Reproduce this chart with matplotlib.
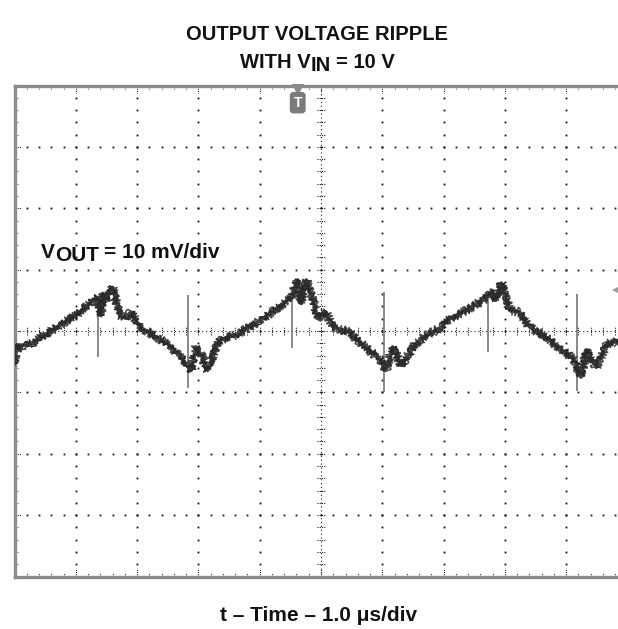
import matplotlib
matplotlib.use('Agg')
import matplotlib.pyplot as plt
import matplotlib.transforms as mtransforms
import numpy as np

plt.rcParams['font.family'] = ['Liberation Sans', 'DejaVu Sans']

# ---------------- data (divisions: x 0..10 = time, y -4..4 = voltage) ----------------
trace_t = [0.00, 0.02, 0.08, 0.24, 0.41, 0.73, 1.01, 1.34, 1.41, 1.44, 1.49, 1.60,
           1.71, 1.81, 1.90, 2.04, 2.31, 2.53, 2.77, 2.81, 2.88, 2.96, 3.05, 3.15,
           3.34, 3.67, 4.00, 4.24, 4.51, 4.62, 4.68, 4.76, 4.89, 4.94, 5.08, 5.19,
           5.46, 5.74, 5.98, 6.06, 6.17, 6.31, 6.55, 6.77, 6.98, 7.04, 7.37, 7.69,
           7.79, 7.85, 7.94, 8.08, 8.24, 8.40, 8.73, 9.11, 9.15, 9.24, 9.33, 9.49,
           9.65, 9.79, 9.84]
trace_v = [-0.53, -0.35, -0.23, -0.23, -0.12, 0.09, 0.26, 0.55, 0.25, 0.61, 0.50, 0.71,
           0.26, 0.21, 0.31, 0.07, -0.10, -0.23, -0.50, -0.56, -0.64, -0.26, -0.40, -0.64,
           -0.15, -0.04, 0.17, 0.34, 0.55, 0.83, 0.45, 0.83, 0.42, 0.21, 0.31, 0.07,
           -0.02, -0.28, -0.48, -0.64, -0.26, -0.56, -0.20, -0.04, 0.07, 0.17, 0.34, 0.53,
           0.66, 0.50, 0.78, 0.34, 0.31, 0.07, -0.15, -0.45, -0.51, -0.75, -0.31, -0.59,
           -0.23, -0.15, -0.20]

# switching spikes: time, low end, high end
spike_t = [1.37, 2.83, 4.53, 6.03, 7.73, 9.18]
spike_lo = [-0.43, -0.93, -0.28, -1.00, -0.35, -0.97]
spike_hi = [0.55, 0.58, 0.55, 0.63, 0.53, 0.61]

title_lines = ["OUTPUT VOLTAGE RIPPLE", "WITH V", "IN", "= 10 V"]
scale_label = ["V", "OUT", "= 10 mV/div"]
xlabel = "t \u2013 Time \u2013 1.0 \u03bcs/div"

# ---------------- figure ----------------
W, H = 618, 629
fig = plt.figure(figsize=(W / 100, H / 100), dpi=100)
x0, x1 = 14.5, 627.5
y_top, y_bot = 85.5, 576.5
ax = fig.add_axes([x0 / W, (H - y_bot) / H, (x1 - x0) / W, (y_bot - y_top) / H])
ax.set_xlim(0, 10)
ax.set_ylim(-4, 4)
ax.set_xticks([])
ax.set_yticks([])
for s in ax.spines.values():
    s.set_color('#8c8c8c')
    s.set_linewidth(2.4)

dot_kw = dict(linestyle='none', marker='s', markersize=1.3, color='#111111', markeredgewidth=0)
steps = np.round(np.arange(0, 10.001, 0.2), 2)
vsteps = np.round(np.arange(-4, 4.001, 0.2), 2)

# grid dots
for gx in [1, 2, 3, 4, 6, 7, 8, 9]:
    ax.plot([gx] * len(vsteps), vsteps, **dot_kw)
for gy in [-3, -2, -1, 1, 2, 3]:
    ax.plot(steps, [gy] * len(steps), **dot_kw)

# center cross-hair lines
ax.plot([0, 10], [0, 0], color='#222222', lw=0.8, linestyle=(0, (1, 2.5)))
ax.plot([5, 5], [-4, 4], color='#222222', lw=0.8, linestyle=(0, (1, 2.5)))
hx = 0.065
hy = 0.065
for v in vsteps:
    ax.plot([5 - hx, 5 + hx], [v, v], color='#222222', lw=0.8, linestyle=(0, (1, 1)))
for t in steps:
    ax.plot([t, t], [-hy, hy], color='#222222', lw=0.8, linestyle=(0, (1, 1)))

# edge ruler ticks
for t in steps:
    L = 0.13 if abs(t - round(t)) < 1e-6 else 0.05
    ax.plot([t, t], [-4, -4 + L], color='#222222', lw=0.8, linestyle=(0, (1, 1)))
    ax.plot([t, t], [4, 4 - L], color='#222222', lw=0.8, linestyle=(0, (1, 1)))
for v in vsteps:
    L = 0.1 if abs(v - round(v)) < 1e-6 else 0.05
    ax.plot([0, L], [v, v], color='#222222', lw=0.8, linestyle=(0, (1, 1)))
ax.plot([0.015, 0.015], [-4, 4], color='#444444', lw=0.6, linestyle=(0, (1, 1)))
ax.plot([0, 10], [3.985, 3.985], color='#444444', lw=0.6, linestyle=(0, (1, 1)))
ax.plot([0, 10], [-3.985, -3.985], color='#444444', lw=0.6, linestyle=(0, (1, 1)))

# waveform (noisy trace rendered with a sketch line style)
ax.vlines(spike_t, spike_lo, spike_hi, color='#6a6a6a', lw=1.1, zorder=4)
ax.plot(trace_t, trace_v, color='#3a3a3a', lw=2.6, zorder=5)
l1, = ax.plot(trace_t, trace_v, color='#4a4a4a', lw=1.1, zorder=5)
l1.set_sketch_params(scale=4.5, length=0.8, randomness=2)
l2, = ax.plot(trace_t, trace_v, color='#2a2a2a', lw=1.1, zorder=6)
l2.set_sketch_params(scale=3.5, length=1.0, randomness=3)

# markers: trigger "T" at top, level arrow on right
ax.plot([4.62], [3.92], marker='v', markersize=8, color='#8a8a8a', markeredgewidth=0, clip_on=False, zorder=7)
ax.text(4.62, 3.72, "T", ha='center', va='center', fontsize=10, fontweight='bold', color='white',
        bbox=dict(boxstyle='round,pad=0.22', fc='#7a7a7a', ec='#7a7a7a'), zorder=7)
ax.plot([9.85], [0.66], marker='<', markersize=9, color='#9a9a9a', markeredgewidth=0, clip_on=False, zorder=7)

ident = mtransforms.IdentityTransform()
renderer = fig.canvas.get_renderer()


def compose(pieces, cx, base_y, size, align='center'):
    """pieces: (text, drop_px, gap_px)"""
    objs = []
    for s, drop, gap in pieces:
        t = fig.text(0, 0, s, fontsize=size, fontweight='bold', ha='left', va='baseline',
                     transform=ident, color='#111111')
        objs.append((t, drop, gap))
    widths = [t.get_window_extent(renderer).width for t, _, _ in objs]
    total = sum(widths) + sum(g for _, _, g in objs)
    x = cx - total / 2 if align == 'center' else cx
    for (t, drop, gap), w in zip(objs, widths):
        x += gap
        t.set_position((x, H - base_y - drop))
        x += w


fig.text(317 / W, 1 - 35 / H, title_lines[0], ha='center', va='center', fontsize=14.5,
         fontweight='bold', color='#111111')
compose([(title_lines[1], 0, 0), (title_lines[2], 3, 0), (title_lines[3], 0, 5)], 317, 68, 14.5)
compose([(scale_label[0], 0, 0), (scale_label[1], 3, 0), (scale_label[2], 0, 5)], 41, 258, 15,
        align='left')
fig.text(319 / W, 1 - 621 / H, xlabel, ha='center', va='baseline', fontsize=15,
         fontweight='bold', color='#111111')

fig.savefig('out.png', dpi=100)
